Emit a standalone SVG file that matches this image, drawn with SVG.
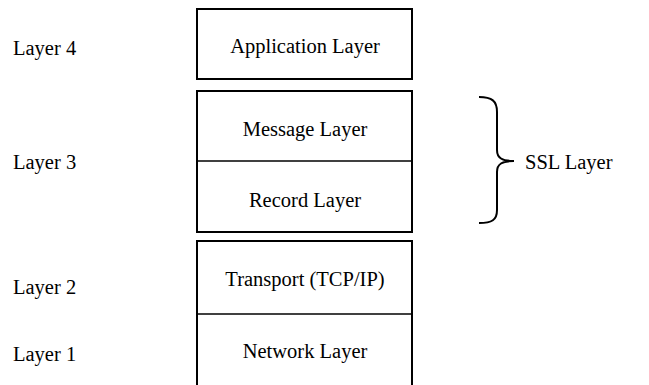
<svg xmlns="http://www.w3.org/2000/svg" width="649" height="385" viewBox="0 0 649 385">
<style>
.box{fill:none;stroke:#000;stroke-width:2}
.div{stroke:#000;stroke-width:1.5}
text{font-family:"Liberation Serif","Times New Roman",serif;font-size:20.5px;fill:#000}
.c{text-anchor:middle}
</style>
<rect width="649" height="385" fill="#fff"/>
<g id="labels">
<text x="13" y="55">Layer 4</text>
<text x="13" y="169">Layer 3</text>
<text x="13" y="294">Layer 2</text>
<text x="13" y="361">Layer 1</text>
</g>
<g id="application">
<rect class="box" x="197" y="9" width="215" height="70"/>
<text class="c" x="305" y="53">Application Layer</text>
</g>
<g id="ssl-stack">
<rect class="box" x="197" y="91" width="215" height="141"/>
<line class="div" x1="197" y1="161" x2="412" y2="161"/>
<g id="message"><text class="c" x="305" y="136">Message Layer</text></g>
<g id="record"><text class="c" x="305" y="207">Record Layer</text></g>
</g>
<g id="lower-stack">
<rect class="box" x="197" y="241" width="215" height="150"/>
<line class="div" x1="197" y1="314" x2="412" y2="314"/>
<g id="transport"><text class="c" x="305" y="286">Transport (TCP/IP)</text></g>
<g id="network"><text class="c" x="305" y="358">Network Layer</text></g>
</g>
<g id="connectors">
<path d="M479,97 C492,97 497,101 497,112 L497,150 C497,158 502,161 514,161 C502,161 497,164 497,172 L497,210 C497,220 492,223 479,223" fill="none" stroke="#000" stroke-width="2"/>
</g>
<g id="ssl">
<text x="525" y="169">SSL Layer</text>
</g>
</svg>
